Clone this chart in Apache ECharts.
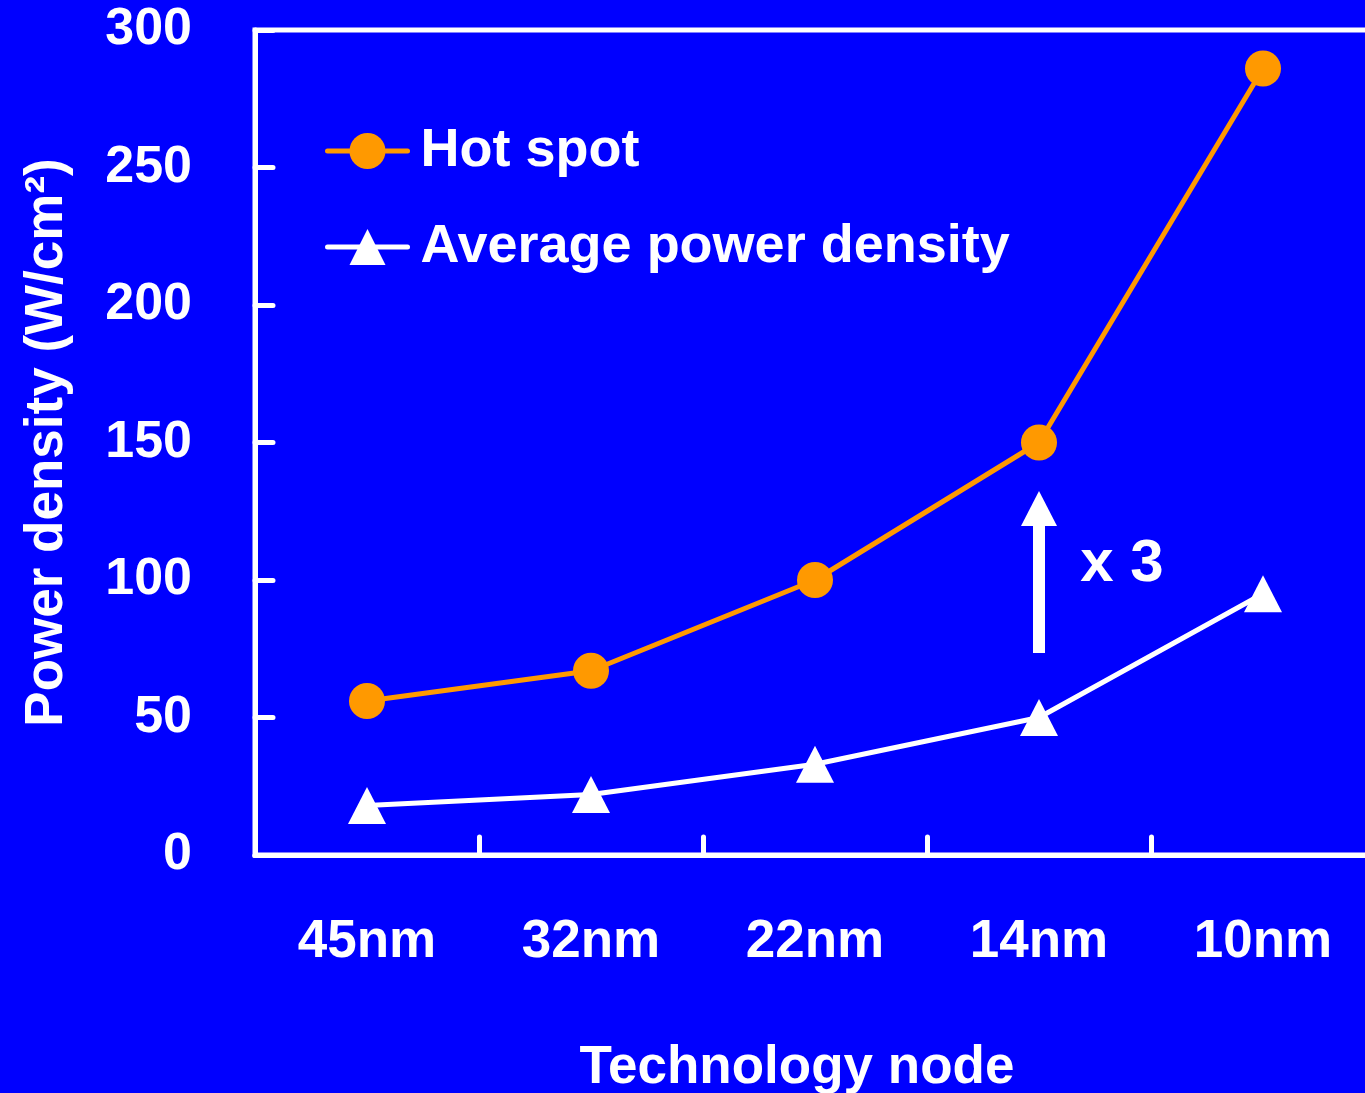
<!DOCTYPE html>
<html>
<head>
<meta charset="utf-8">
<script src="https://cdn.jsdelivr.net/npm/echarts@6/dist/echarts.min.js"></script>
<style>
html,body{margin:0;padding:0;background:#0000ff;}
#chart{width:1365px;height:1093px;}
</style>
</head>
<body>
<div id="chart"></div>
<script>
const categories = ['45nm', '32nm', '22nm', '14nm', '10nm'];
const hotSpot = [56, 67, 100, 150, 286];
const averageDensity = [18, 22, 33, 50, 95];
const yTicks = [0, 50, 100, 150, 200, 250, 300];
const arrowFrom = 73.5;
const arrowTo = 126;
const arrowCategory = '14nm';
const factorLabel = 'x 3';
const factorValue = 105.5;

const FONT = '"Liberation Sans", Arial, sans-serif';
const chart = echarts.init(document.getElementById('chart'));
chart.setOption({
  backgroundColor: '#0000ff',
  animation: false,
  grid: {
    left: 255, top: 30, width: 1120, height: 825,
    outerBoundsMode: 'none',
    containLabel: false,
    show: true, borderColor: '#ffffff', borderWidth: 5, backgroundColor: 'transparent'
  },
  legend: {
    orient: 'vertical',
    left: 325, top: 124, padding: 0,
    itemWidth: 80, itemHeight: 45, itemGap: 42,
    lineStyle: { width: 5, cap: 'round' },
    textStyle: { color: '#ffffff', fontSize: 54, fontWeight: 'bold', fontFamily: FONT, padding: [0, 0, 0, 8] },
    data: ['Hot spot', 'Average power density']
  },
  xAxis: {
    type: 'category',
    data: categories,
    boundaryGap: true,
    name: 'Technology node',
    nameLocation: 'middle',
    nameGap: 187,
    nameTextStyle: { color: '#ffffff', fontSize: 53, fontWeight: 'bold', fontFamily: FONT, padding: [0, 36, 0, 0] },
    axisLine: { lineStyle: { color: '#ffffff', width: 5 } },
    axisTick: { show: true, interval: 0, alignWithLabel: false, inside: true, length: 18, lineStyle: { color: '#ffffff', width: 5, cap: 'round' } },
    axisLabel: { color: '#ffffff', fontSize: 53, fontWeight: 'bold', fontFamily: FONT, margin: 61 },
    splitLine: { show: false }
  },
  yAxis: {
    type: 'value',
    min: yTicks[0], max: yTicks[yTicks.length - 1], interval: 50,
    name: 'Power density (W/cm²)',
    nameLocation: 'middle',
    nameGap: 181,
    nameTextStyle: { color: '#ffffff', fontSize: 53, fontWeight: 'bold', fontFamily: FONT },
    axisLine: { show: true, lineStyle: { color: '#ffffff', width: 5 } },
    axisTick: { show: true, inside: true, length: 18, lineStyle: { color: '#ffffff', width: 5, cap: 'round' } },
    axisLabel: { color: '#ffffff', fontSize: 52, fontWeight: 'bold', fontFamily: FONT, margin: 63 },
    splitLine: { show: false }
  },
  series: [
    {
      name: 'Hot spot',
      type: 'line',
      data: hotSpot,
      symbol: 'circle',
      symbolSize: 36,
      lineStyle: { color: '#ff9900', width: 5 },
      itemStyle: { color: '#ff9900' },
      z: 3
    },
    {
      name: 'Average power density',
      type: 'line',
      data: averageDensity,
      symbol: 'triangle',
      symbolSize: [38, 37],
      lineStyle: { color: '#ffffff', width: 5 },
      itemStyle: { color: '#ffffff' },
      markLine: {
        silent: true,
        symbol: ['none', 'triangle'],
        symbolSize: [36, 35],
        label: { show: false },
        lineStyle: { color: '#ffffff', width: 12, type: 'solid' },
        data: [[
          { coord: [arrowCategory, arrowFrom] },
          { coord: [arrowCategory, arrowTo] }
        ]]
      },
      markPoint: {
        silent: true,
        symbol: 'circle',
        symbolSize: 1,
        itemStyle: { color: 'rgba(0,0,0,0)' },
        label: {
          show: true, position: 'inside', offset: [83, 0],
          formatter: factorLabel,
          color: '#ffffff', fontSize: 60, fontWeight: 'bold', fontFamily: FONT
        },
        data: [{ coord: [arrowCategory, factorValue] }]
      },
      z: 3
    }
  ]
});
</script>
</body>
</html>
